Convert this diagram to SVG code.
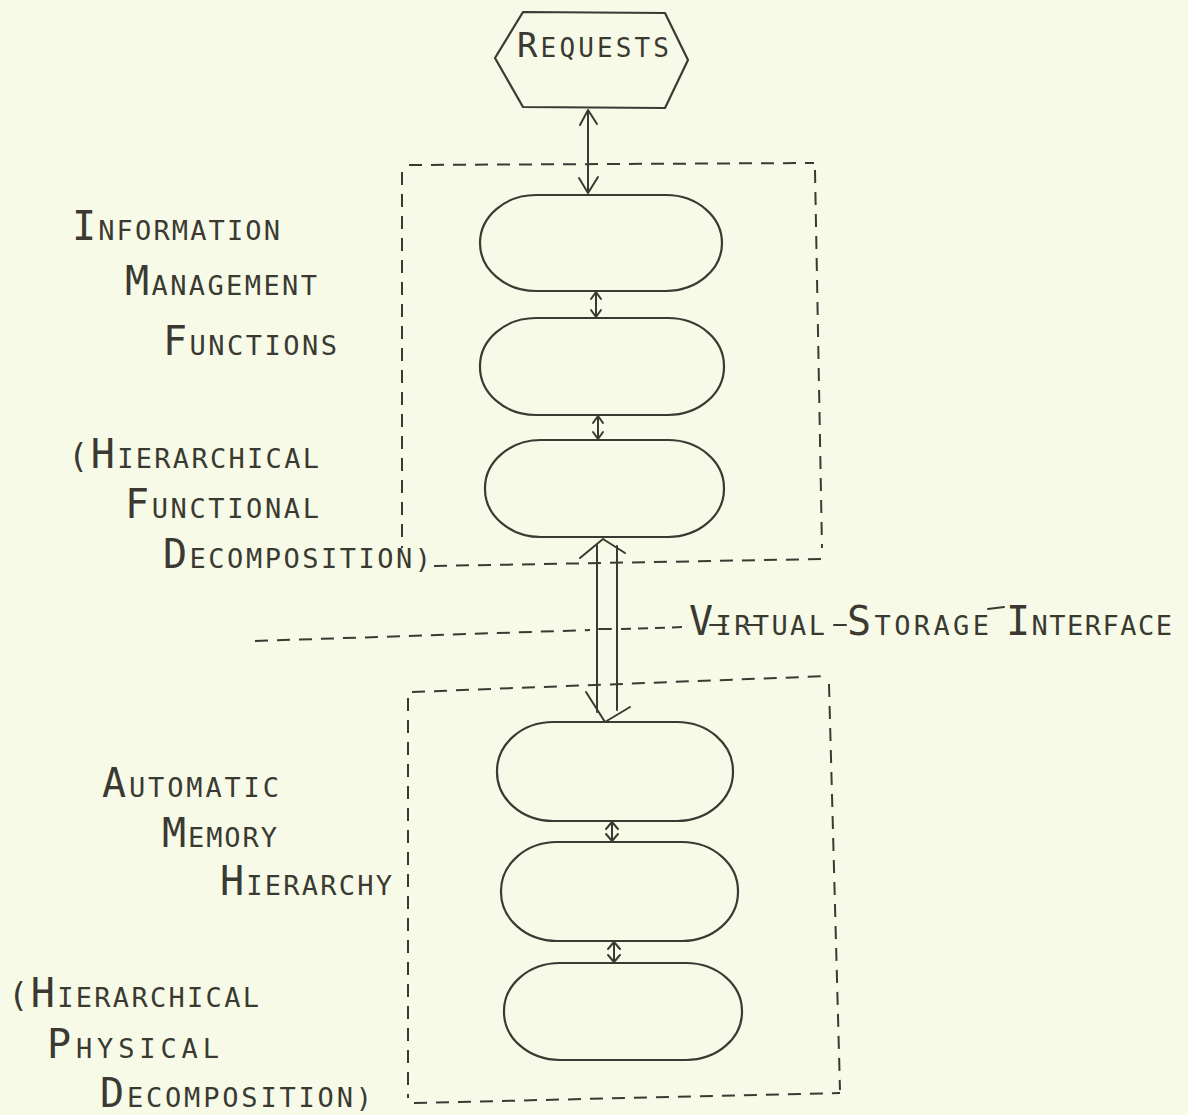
<svg xmlns="http://www.w3.org/2000/svg" width="1188" height="1115" viewBox="0 0 1188 1115">
<defs>
<style>
.bg{fill:#f8fae8}
.sh{fill:none;stroke:#3a3a32;stroke-width:2.2;stroke-linecap:round;stroke-linejoin:round}
.ln{fill:none;stroke:#3a3a32;stroke-width:2;stroke-linecap:round;stroke-linejoin:round}
.dash{fill:none;stroke:#3a3a32;stroke-width:2;stroke-dasharray:13 9}
.t{font-family:"DejaVu Sans Mono","Liberation Mono",monospace;font-size:27px;fill:#3a3a32}
.big{font-size:40px}
.par{font-size:34px}
</style>
</defs>
<rect class="bg" x="0" y="0" width="1188" height="1115"/>

<g id="boundaries">
<path class="dash" d="M409 165 L814 163"/>
<path class="dash" d="M402 172 L402 548"/>
<path class="dash" d="M815 170 L822 548"/>
<path class="dash" d="M434 566 L822 559"/>
<path class="dash" d="M412 692 L828 676"/>
<path class="dash" d="M408 698 L408 1098"/>
<path class="dash" d="M829 684 L840 1090"/>
<path class="dash" d="M414 1103 L840 1093"/>
</g>

<g id="virtual-storage-interface">
<path class="dash" d="M255 641 L590 630"/>
<path class="ln" d="M599 629 L611 629"/>
<path class="dash" d="M621 629 L686 627" style="stroke-dasharray:10 7"/>
<path class="ln" d="M710 625 L726 625"/>
<path class="ln" d="M747 625 L761 625"/>
<path class="ln" d="M834 625 L846 625"/>
<path class="ln" d="M988 609 L1004 607"/>
<text class="t" x="689" y="635" textLength="136" lengthAdjust="spacing"><tspan class="big">V</tspan>IRTUAL</text>
<text class="t" x="847" y="635" textLength="142" lengthAdjust="spacing"><tspan class="big">S</tspan>TORAGE</text>
<text class="t" x="1006" y="635" textLength="166" lengthAdjust="spacing"><tspan class="big">I</tspan>NTERFACE</text>
</g>

<g id="requests">
<polygon class="sh" points="523,12 665,13 688,60 665,108 523,107 495,58"/>
<text class="t" x="517" y="57" textLength="152" lengthAdjust="spacing" style="font-size:26px"><tspan style="font-size:34px">R</tspan>EQUESTS</text>
</g>

<g id="info-1"><rect class="sh" x="480" y="195" width="242" height="96" rx="56" ry="48"/></g>
<g id="info-2"><rect class="sh" x="480" y="318" width="244" height="97" rx="56" ry="48"/></g>
<g id="info-3"><rect class="sh" x="485" y="440" width="239" height="97" rx="56" ry="48"/></g>
<g id="mem-1"><rect class="sh" x="497" y="722" width="236" height="99" rx="56" ry="49"/></g>
<g id="mem-2"><rect class="sh" x="501" y="842" width="237" height="99" rx="56" ry="49"/></g>
<g id="mem-3"><rect class="sh" x="504" y="963" width="238" height="97" rx="56" ry="48"/></g>

<g id="label-information">
<text class="t" x="72" y="240" textLength="208" lengthAdjust="spacing"><tspan class="big">I</tspan>NFORMATION</text>
<text class="t" x="125" y="295" textLength="192" lengthAdjust="spacing"><tspan class="big">M</tspan>ANAGEMENT</text>
<text class="t" x="163" y="355" textLength="174" lengthAdjust="spacing"><tspan class="big">F</tspan>UNCTIONS</text>
<text class="t" x="68" y="468" textLength="251" lengthAdjust="spacing"><tspan class="par">(</tspan><tspan class="big">H</tspan>IERARCHICAL</text>
<text class="t" x="125" y="518" textLength="194" lengthAdjust="spacing"><tspan class="big">F</tspan>UNCTIONAL</text>
<text class="t" x="163" y="568" textLength="268" lengthAdjust="spacing"><tspan class="big">D</tspan>ECOMPOSITION)</text>
</g>

<g id="label-memory">
<text class="t" x="102" y="797" textLength="177" lengthAdjust="spacing"><tspan class="big">A</tspan>UTOMATIC</text>
<text class="t" x="162" y="847" textLength="115" lengthAdjust="spacing"><tspan class="big">M</tspan>EMORY</text>
<text class="t" x="220" y="895" textLength="172" lengthAdjust="spacing"><tspan class="big">H</tspan>IERARCHY</text>
<text class="t" x="8" y="1007" textLength="251" lengthAdjust="spacing"><tspan class="par">(</tspan><tspan class="big">H</tspan>IERARCHICAL</text>
<text class="t" x="47" y="1058" textLength="172" lengthAdjust="spacing"><tspan class="big">P</tspan>HYSICAL</text>
<text class="t" x="100" y="1107" textLength="272" lengthAdjust="spacing"><tspan class="big">D</tspan>ECOMPOSITION)</text>
</g>

<g id="connectors">
<path class="ln" d="M588 110 L588 193 M580 125 L588 110 L597 124 M579 178 L588 193 L598 177"/>
<path class="ln" d="M596 292 L596 317 M591 299 L596 292 L601 299 M591 310 L596 317 L601 310"/>
<path class="ln" d="M598 416 L598 439 M593 423 L598 416 L603 423 M593 432 L598 439 L603 432"/>
<path class="ln" d="M597 545 L597 712 M617 546 L617 710 M580 558 L603 539 L625 553 M586 692 L605 722 L630 707"/>
<path class="ln" d="M612 822 L612 841 M606 829 L612 822 L618 829 M606 834 L612 841 L618 834"/>
<path class="ln" d="M614 942 L614 962 M608 949 L614 942 L620 949 M608 955 L614 962 L620 955"/>
</g>
</svg>
